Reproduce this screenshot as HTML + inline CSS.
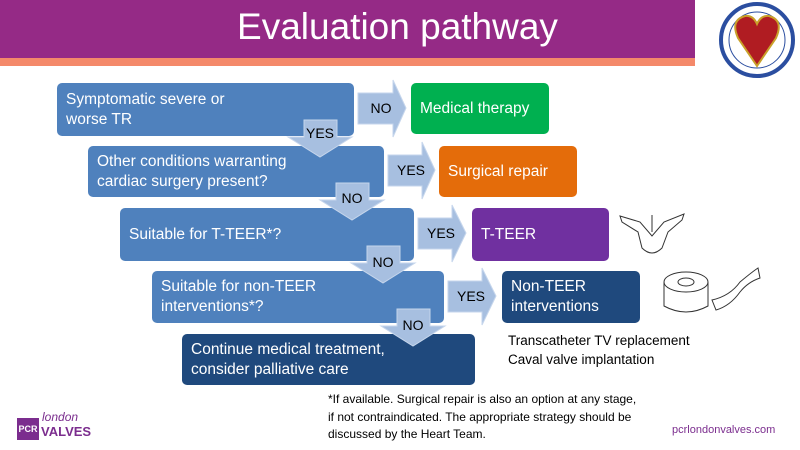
<!DOCTYPE html>
<html><head><meta charset="utf-8"><style>
body{margin:0;width:800px;height:450px;overflow:hidden;background:#fff;font-family:"Liberation Sans",sans-serif;position:relative}
.b{position:absolute;border-radius:5px;color:#fff;font-size:15.5px;line-height:20px;display:flex;align-items:center;box-sizing:border-box;padding-left:9px}
svg{position:absolute;left:0;top:0}
</style></head><body>
<div style="position:absolute;left:0;top:0;width:695px;height:58px;background:#952a86"></div>
<div style="position:absolute;left:0;top:58px;width:695px;height:8px;background:#f4896a"></div>
<div style="position:absolute;left:0;top:6px;width:695px;text-align:center;color:#fff;font-size:37px;padding-left:100px;box-sizing:border-box">Evaluation pathway</div>

<div class="b" style="left:57px;top:83px;width:297px;height:53px;background:#4f81bd">Symptomatic severe or<br>worse TR</div>
<div class="b" style="left:411px;top:83px;width:138px;height:51px;background:#00b050">Medical therapy</div>
<div class="b" style="left:88px;top:146px;width:296px;height:51px;background:#4f81bd">Other conditions warranting<br>cardiac surgery present?</div>
<div class="b" style="left:439px;top:146px;width:138px;height:51px;background:#e46c0a">Surgical repair</div>
<div class="b" style="left:120px;top:208px;width:294px;height:53px;background:#4f81bd">Suitable for T-TEER*?</div>
<div class="b" style="left:472px;top:208px;width:137px;height:53px;background:#7030a0">T-TEER</div>
<div class="b" style="left:152px;top:271px;width:292px;height:52px;background:#4f81bd">Suitable for non-TEER<br>interventions*?</div>
<div class="b" style="left:502px;top:271px;width:138px;height:52px;background:#1f497d">Non-TEER<br>interventions</div>
<div class="b" style="left:182px;top:334px;width:293px;height:51px;background:#1f497d">Continue medical treatment,<br>consider palliative care</div>

<svg width="800" height="450">
<g fill="#a7bfe0" stroke="#c6d6ec" stroke-width="1">
<path d="M358,93H393V80L406,108L393,137V124H358Z"/>
<path d="M388,155H422V142L435,170L422,199V186H388Z"/>
<path d="M418,218H452V205L466,233L452,262V249H418Z"/>
<path d="M448,281H482V268L496,296L482,325V312H448Z"/>
<path d="M304,120H337V137H352L320,157L288,137H304Z"/>
<path d="M336,183H369V200H384L352,220L320,200H336Z"/>
<path d="M367,246H400V263H415L383,283L351,263H367Z"/>
<path d="M397,309H430V326H445L413,346L381,326H397Z"/>
</g>
<g font-family="Liberation Sans,sans-serif" font-size="14" fill="#000" text-anchor="middle">
<text x="381" y="113">NO</text>
<text x="411" y="175">YES</text>
<text x="441" y="238">YES</text>
<text x="471" y="301">YES</text>
<text x="320" y="138">YES</text>
<text x="352" y="203">NO</text>
<text x="383" y="267">NO</text>
<text x="413" y="330">NO</text>
</g>
<g fill="none" stroke="#333" stroke-width="1">
<path d="M620,216L640,222L652,236L664,222L684,214L682,220L668,232L662,248Q652,258 642,248L638,232L622,222Z"/>
<line x1="652" y1="215" x2="652" y2="232"/>
<ellipse cx="686" cy="282" rx="22" ry="10"/>
<path d="M664,282V306Q686,318 708,306V282"/>
<ellipse cx="686" cy="282" rx="8" ry="4"/>
<path d="M712,300Q730,296 740,282Q752,272 758,268L760,278Q748,282 740,292Q730,306 716,310Z"/>
</g>
<circle cx="757" cy="40" r="36" fill="#fff" stroke="#2b4ea0" stroke-width="4"/>
<circle cx="757" cy="40" r="28" fill="#fff" stroke="#2b4ea0" stroke-width="1"/>
<path d="M757,66L738,38Q730,20 745,16Q753,15 757,24Q761,15 769,16Q784,20 776,38Z" fill="#b01c22" stroke="#c9a02a" stroke-width="2"/>
</svg>

<div style="position:absolute;left:328px;top:391px;font-size:12px;line-height:17.5px;color:#000;width:340px;white-space:nowrap">*If available. Surgical repair is also an option at any stage,<br>if not contraindicated. The appropriate strategy should be<br>discussed by the Heart Team.</div>
<div style="position:absolute;left:508px;top:331px;font-size:13.5px;line-height:19px;color:#000">Transcatheter TV replacement<br>Caval valve implantation</div>
<div style="position:absolute;left:17px;top:418px;width:22px;height:22px;background:#7b2d8e;color:#fff;font-size:9px;line-height:22px;text-align:center;font-weight:bold">PCR</div>
<div style="position:absolute;left:42px;top:411px;color:#7b2d8e;font-size:12px;font-style:italic;line-height:13px">london</div>
<div style="position:absolute;left:41px;top:424px;color:#7b2d8e;font-size:13px;font-weight:bold;line-height:15px">VALVES</div>
<div style="position:absolute;left:672px;top:424px;color:#7b2d8e;font-size:11px">pcrlondonvalves.com</div>
</body></html>
